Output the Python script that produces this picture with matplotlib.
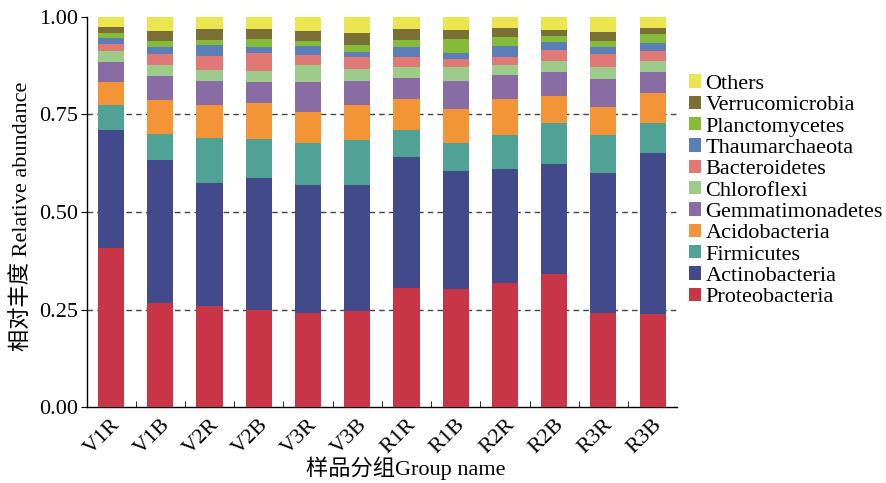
import numpy as np
import matplotlib
matplotlib.use('Agg')
import matplotlib.pyplot as plt
from matplotlib.patches import Patch

plt.rcParams['font.family'] = ['Liberation Serif', 'Noto Sans CJK SC']

groups = ['V1R', 'V1B', 'V2R', 'V2B', 'V3R', 'V3B', 'R1R', 'R1B', 'R2R', 'R2B', 'R3R', 'R3B']

# bottom -> top
proteobacteria   = [0.408, 0.268, 0.260, 0.249, 0.241, 0.247, 0.305, 0.304, 0.317, 0.341, 0.242, 0.240]
actinobacteria   = [0.301, 0.366, 0.315, 0.337, 0.327, 0.323, 0.335, 0.300, 0.293, 0.283, 0.359, 0.412]
firmicutes       = [0.065, 0.067, 0.115, 0.102, 0.108, 0.114, 0.071, 0.072, 0.088, 0.105, 0.096, 0.075]
acidobacteria    = [0.060, 0.085, 0.085, 0.091, 0.081, 0.090, 0.078, 0.089, 0.091, 0.068, 0.073, 0.077]
gemmatimonadetes = [0.051, 0.063, 0.061, 0.053, 0.075, 0.062, 0.054, 0.072, 0.061, 0.063, 0.072, 0.054]
chloroflexi      = [0.027, 0.029, 0.029, 0.030, 0.044, 0.030, 0.029, 0.034, 0.028, 0.026, 0.029, 0.030]
bacteroidetes    = [0.019, 0.028, 0.035, 0.046, 0.026, 0.031, 0.024, 0.021, 0.019, 0.028, 0.033, 0.024]
thaumarchaeota   = [0.016, 0.016, 0.027, 0.016, 0.023, 0.012, 0.026, 0.016, 0.029, 0.022, 0.018, 0.021]
planctomycetes   = [0.012, 0.017, 0.015, 0.019, 0.014, 0.018, 0.018, 0.036, 0.023, 0.015, 0.015, 0.022]
verrucomicrobia  = [0.016, 0.025, 0.026, 0.026, 0.025, 0.031, 0.029, 0.022, 0.023, 0.016, 0.024, 0.017]
others           = [0.025, 0.036, 0.032, 0.031, 0.036, 0.042, 0.031, 0.034, 0.028, 0.033, 0.039, 0.028]

phyla = ['Proteobacteria', 'Actinobacteria', 'Firmicutes', 'Acidobacteria', 'Gemmatimonadetes',
         'Chloroflexi', 'Bacteroidetes', 'Thaumarchaeota', 'Planctomycetes', 'Verrucomicrobia', 'Others']
values = [proteobacteria, actinobacteria, firmicutes, acidobacteria, gemmatimonadetes,
          chloroflexi, bacteroidetes, thaumarchaeota, planctomycetes, verrucomicrobia, others]
colors = ['#c83546', '#424a8c', '#4fa294', '#f39536', '#8a6ca5',
          '#9dcc8a', '#e07876', '#5a7fb8', '#86bb3a', '#7a7035', '#ebe54f']

fig = plt.figure(figsize=(8.87, 4.83), dpi=100)
ax = fig.add_axes([0.098, 0.157, 0.665, 0.808])

x = np.arange(len(groups))
bottom = np.zeros(len(groups))
for name, vals, c in zip(phyla, values, colors):
    vals = np.array(vals)
    ax.bar(x, vals, bottom=bottom, width=0.53, color=c, label=name, zorder=3)
    bottom += vals

for yv in [0.25, 0.5, 0.75]:
    ax.axhline(yv, color='#444444', ls=(0, (4, 3)), lw=1.0, zorder=1)

ax.set_xlim(-0.49, 11.49)
ax.set_ylim(0, 1.0)
ax.set_yticks([0, 0.25, 0.5, 0.75, 1.0])
ax.set_yticklabels(['0.00', '0.25', '0.50', '0.75', '1.00'], fontsize=16)
ax.set_xticks(x)
ax.set_xticklabels(groups, fontsize=16, rotation=45, ha='right', rotation_mode='anchor')
ax.set_xticks(x[:-1] + 0.5, minor=True)
ax.tick_params(axis='x', which='major', length=0, pad=6)
ax.tick_params(axis='x', which='minor', direction='in', length=4)
ax.tick_params(axis='y', direction='out', length=4, pad=2)

for s in ['top', 'right']:
    ax.spines[s].set_visible(False)
ax.spines['left'].set_linewidth(1.0)
ax.spines['bottom'].set_linewidth(1.0)

ax.set_ylabel('相对丰度 Relative abundance', fontsize=16)
ax.yaxis.set_label_coords(-0.092, 0.49)
ax.set_xlabel('样品分组Group name', fontsize=16)
ax.xaxis.set_label_coords(0.541, -0.125)

handles = [Patch(facecolor=c, label=n) for n, c in zip(phyla, colors)][::-1]
fig.legend(handles=handles, loc='upper left', bbox_to_anchor=(0.764, 0.869),
           frameon=False, fontsize=16, handlelength=0.55, handleheight=0.55,
           handletextpad=0.2, labelspacing=0.08, borderpad=0)

fig.savefig('out.png', dpi=100)
